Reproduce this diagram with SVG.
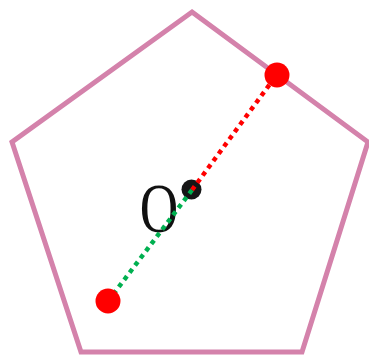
<svg xmlns="http://www.w3.org/2000/svg" width="369" height="355" viewBox="0 0 369 355">
<defs>
<style>
.pent{fill:none;stroke:#d482ab;stroke-width:5;stroke-linejoin:miter}
.dot{fill:#ff0000}
.dl{stroke-width:4.5;stroke-dasharray:4.5 4.5;fill:none}
</style>
<filter id="blur" x="-50%" y="-50%" width="200%" height="200%"><feGaussianBlur stdDeviation="0.7"/></filter>
</defs>
<g id="pentagon"><polygon class="pent" points="192,12 368,142 302,352 81,352 12,142"/></g>
<g id="label-O"><text x="159" y="232" text-anchor="middle" font-family="Liberation Serif, serif" font-size="70" fill="#111" transform="translate(159 0) scale(0.76 1) translate(-159 0)">O</text></g>
<g id="center"><circle cx="191.5" cy="189.5" r="10" fill="#151515" filter="url(#blur)"/></g>
<g id="connectors">
<line class="dl" x1="192" y1="190" x2="270" y2="84" stroke="#ff0000"/>
<line class="dl" x1="192" y1="190" x2="115" y2="292" stroke="#00b050"/>
</g>
<g id="point-A"><circle class="dot" cx="277" cy="75" r="12.5"/></g>
<g id="point-B"><circle class="dot" cx="108" cy="301" r="12.5"/></g>
</svg>
